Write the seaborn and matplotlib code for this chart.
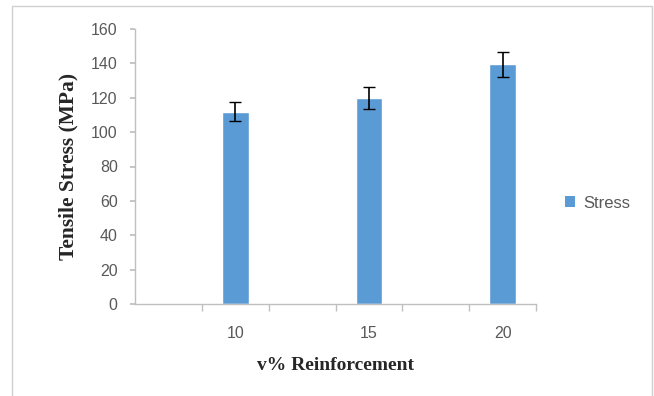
import numpy as np
import seaborn as sns
import matplotlib.pyplot as plt
from matplotlib.patches import Rectangle, Patch

# data
reinforcement = ["10", "15", "20"]
stress = [112, 120, 139.5]
stress_err = [5.6, 6.5, 7.2]

sns.set_theme(style="white")
plt.rcParams['font.family'] = ['Liberation Sans', 'DejaVu Sans']

bar_color = "#5B9BD5"
grey_txt = "#595959"

fig = plt.figure(figsize=(6.54, 3.96), dpi=100)
ax = fig.add_axes([135/654, 1-304/396, (536-135)/654, (304-29)/396])

sns.barplot(x=reinforcement, y=stress, color=bar_color, width=0.2,
            saturation=1, ax=ax)
ax.errorbar(np.arange(len(stress)), stress, yerr=stress_err, fmt="none",
            ecolor="black", elinewidth=1.2, capsize=4, capthick=1)

ax.set_xlim(-0.75, 2.25)
ax.set_ylim(0, 160)
ax.set_yticks(np.arange(0, 161, 20))
ax.set_xticks(np.arange(-0.25, 2.26, 0.5), minor=True)

for s in ["top", "right"]:
    ax.spines[s].set_visible(False)
for s in ["left", "bottom"]:
    ax.spines[s].set_color("#BFBFBF")
    ax.spines[s].set_linewidth(1)

ax.tick_params(axis="y", which="major", left=True, length=3.5, color="#BFBFBF",
               labelsize=11.5, labelcolor=grey_txt, pad=9)
ax.tick_params(axis="x", which="major", bottom=False, labelsize=11.5,
               labelcolor=grey_txt, pad=10)
ax.tick_params(axis="x", which="minor", bottom=True, length=5, color="#BFBFBF")

ax.set_ylabel("Tensile Stress (MPa)", family="Liberation Serif",
              fontweight="bold", fontsize=15.5, color="#262626", labelpad=9)
ax.set_xlabel("v% Reinforcement", family="Liberation Serif",
              fontweight="bold", fontsize=14, color="#262626", labelpad=11)

handle = Patch(facecolor=bar_color, edgecolor="none")
fig.legend([handle], ["Stress"], loc="center left",
           bbox_to_anchor=(550/654, 1-203/396), frameon=False,
           fontsize=12, handlelength=0.6, handleheight=0.6,
           handletextpad=0.5, labelcolor=grey_txt)

# chart area border
fig.patches.append(Rectangle((12/654, -0.01), (652-12)/654, (1-6/396)+0.01,
                             transform=fig.transFigure, fill=False,
                             edgecolor="#D0D0D0", linewidth=1))

fig.savefig("out.png", dpi=100)
